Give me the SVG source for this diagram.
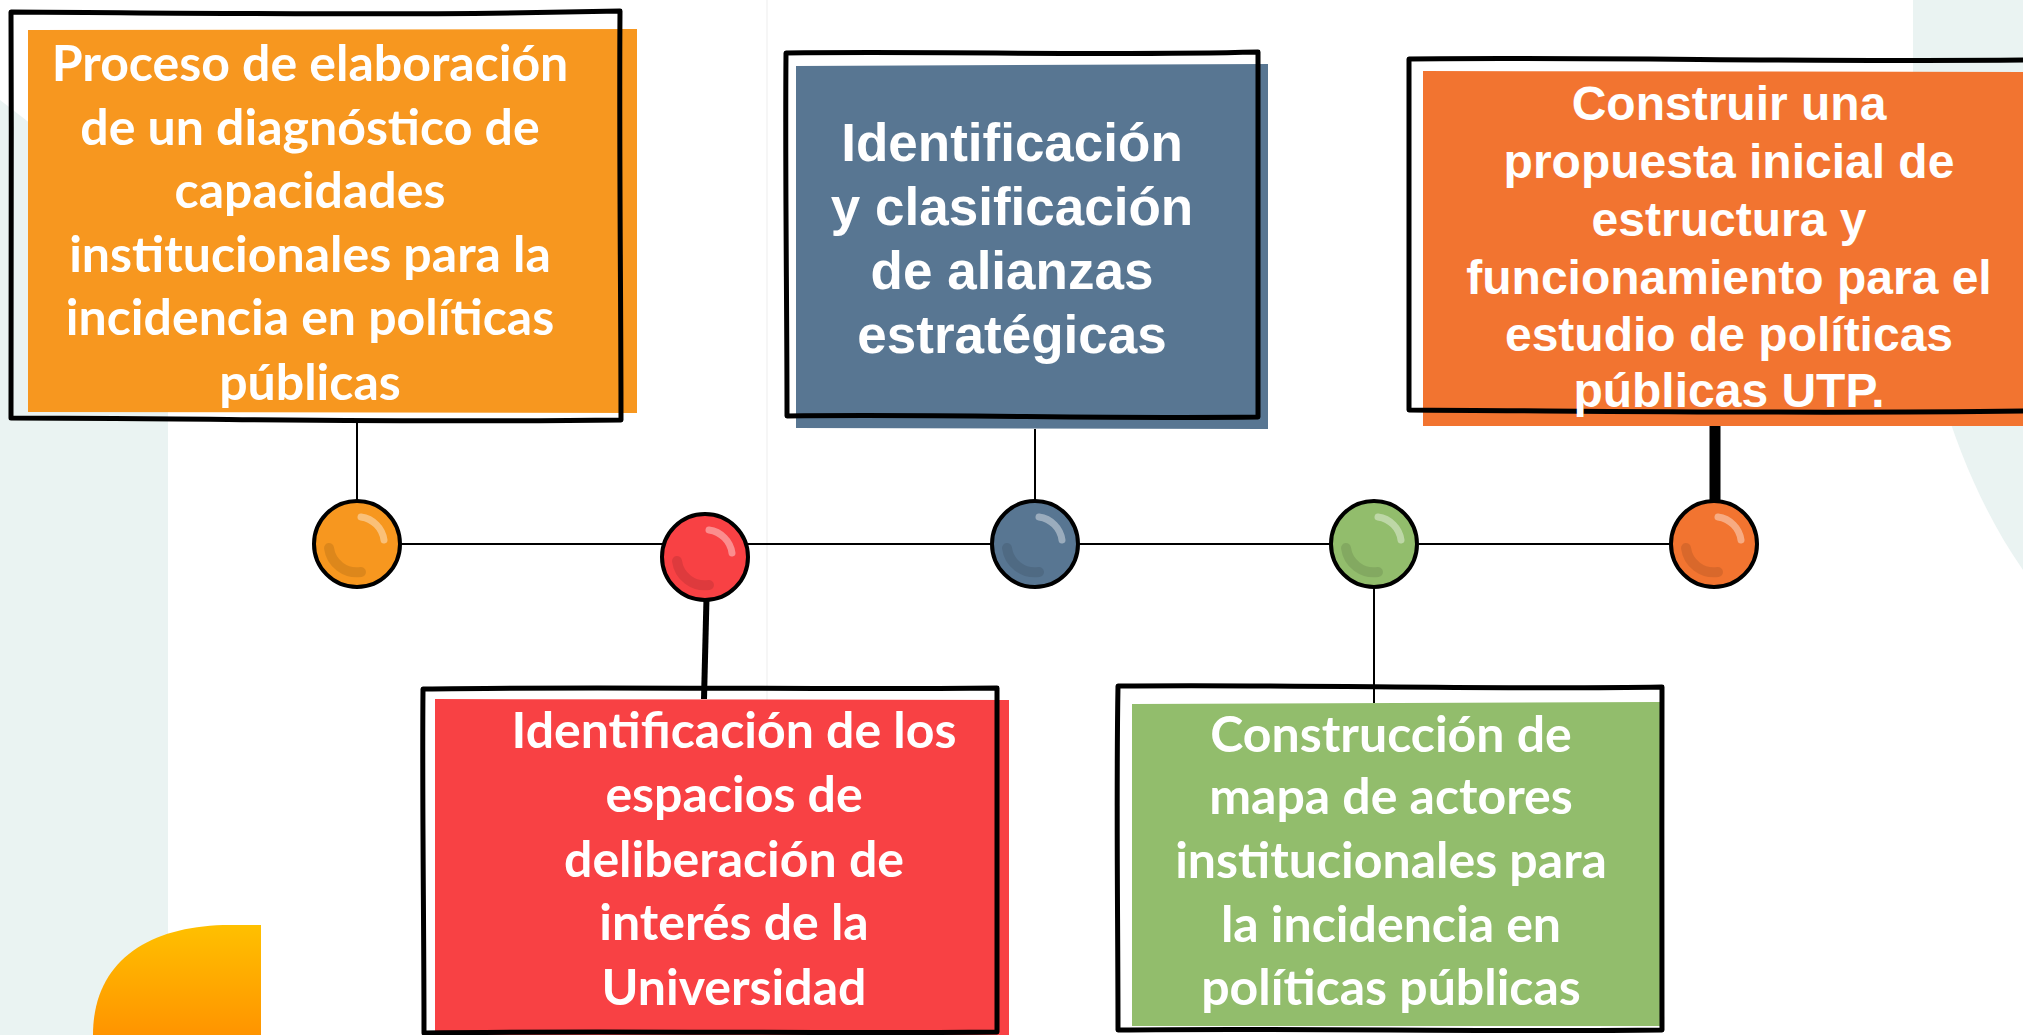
<svg xmlns="http://www.w3.org/2000/svg" width="2023" height="1035" viewBox="0 0 2023 1035">
<style>
.frame{fill:none;stroke:#000;stroke-width:5;stroke-linejoin:round;stroke-linecap:round}
.tc{font-family:Lato,"Open Sans","DejaVu Sans",sans-serif;font-weight:700;font-size:50px;fill:#fff;text-anchor:middle}
.ta{font-family:"Liberation Sans",Arial,sans-serif;font-weight:700;fill:#fff;text-anchor:middle}
.ball{stroke:#000;stroke-width:4}
.thin{stroke:#000;stroke-width:2;fill:none}
</style>
<defs>
<linearGradient id="gy" x1="0" y1="0" x2="0" y2="1">
<stop offset="0" stop-color="#FFC000"/>
<stop offset="1" stop-color="#FF9400"/>
</linearGradient>
<g id="gloss">
<path d="M4,-27 A27,27 0 0 1 27,-4" stroke="#fff" stroke-opacity="0.4" stroke-width="7" stroke-linecap="round" fill="none"/>
<path d="M-28,4 A28,28 0 0 0 4,28" stroke="#000" stroke-opacity="0.1" stroke-width="10" stroke-linecap="round" fill="none"/>
</g>
</defs>

<g id="background">
<rect x="0" y="0" width="2023" height="1035" fill="#fff"/>
<path d="M0,100 L168,230 L168,1035 L0,1035 Z" fill="#EAF3F2"/>
<path d="M1913,0 L2023,0 L2023,570 C1960,480 1913,340 1913,200 Z" fill="#EAF3F2"/>
<line x1="767" y1="0" x2="767" y2="1035" stroke="#F3F3F3" stroke-width="1.5"/>
<path d="M93,1035 C93,960 150,925 230,925 L261,925 L261,1035 Z" fill="url(#gy)"/>
</g>

<g id="connectors">
<line class="thin" x1="357" y1="544" x2="1713" y2="544" stroke="#3a3a3a"/>
<line class="thin" x1="357" y1="421" x2="357" y2="500"/>
<line class="thin" x1="1035" y1="429" x2="1035" y2="500"/>
<line class="thin" x1="1374" y1="587" x2="1374" y2="703"/>
<path d="M706.5,598 L704,699" stroke="#000" stroke-width="6" fill="none"/>
<line x1="1715" y1="426" x2="1715" y2="500" stroke="#000" stroke-width="11"/>
</g>

<g id="node-1">
<path d="M28,30 L637,29 L637,413 L28,412 Z" fill="#F7971F"/>
<path class="frame" d="M11,12 C200,13 400,16 620,11 C619,150 621,300 621,420 C400,423 200,418 11,418 C10,300 12,150 11,12 Z"/>
<text class="tc" x="310"><tspan x="310" y="81">Proceso de elaboración</tspan><tspan x="310" y="145">de un diagnóstico de</tspan><tspan x="310" y="208">capacidades</tspan><tspan x="310" y="272">institucionales para la</tspan><tspan x="310" y="335">incidencia en políticas</tspan><tspan x="310" y="400">públicas</tspan></text>
</g>

<g id="node-2">
<path d="M796,66 L1268,64 L1268,429 L796,428 Z" fill="#587692"/>
<path class="frame" d="M786,53 C950,51 1100,56 1258,52 C1257,180 1259,300 1258,417 C1100,419 950,414 787,416 C787,300 785,180 786,53 Z"/>
<text class="ta" font-size="53"><tspan x="1012" y="161">Identificación</tspan><tspan x="1012" y="225">y clasificación</tspan><tspan x="1012" y="289">de alianzas</tspan><tspan x="1012" y="353">estratégicas</tspan></text>
</g>

<g id="node-3">
<path d="M435,699 L1009,700 L1009,1035 L435,1035 Z" fill="#F84144"/>
<path class="frame" d="M423,689 C600,686 800,690 997,688 C996,800 998,920 997,1032 C800,1034 600,1030 424,1033 C424,920 422,800 423,689 Z"/>
<text class="tc"><tspan x="734" y="748">Identificación de los</tspan><tspan x="734" y="812">espacios de</tspan><tspan x="734" y="877">deliberación de</tspan><tspan x="734" y="940">interés de la</tspan><tspan x="734" y="1005">Universidad</tspan></text>
</g>

<g id="node-4">
<path d="M1132,704 L1660,702 L1660,1026 L1132,1026 Z" fill="#92BD6C"/>
<path class="frame" d="M1118,686 C1300,684 1480,690 1662,687 C1661,800 1663,920 1662,1030 C1480,1032 1300,1028 1118,1030 C1118,920 1116,800 1118,686 Z"/>
<text class="tc"><tspan x="1391" y="752">Construcción de</tspan><tspan x="1391" y="814">mapa de actores</tspan><tspan x="1391" y="878">institucionales para</tspan><tspan x="1391" y="942">la incidencia en</tspan><tspan x="1391" y="1005">políticas públicas</tspan></text>
</g>

<g id="node-5">
<path d="M1423,71 L2023,72 L2023,426 L1423,426 Z" fill="#F27430"/>
<path class="frame" d="M2030,60 C1800,62 1600,57 1409,59 C1410,180 1408,300 1409,410 C1600,411 1800,414 2030,411"/>
<text class="ta" font-size="48"><tspan x="1729" y="120">Construir una</tspan><tspan x="1729" y="178">propuesta inicial de</tspan><tspan x="1729" y="236">estructura y</tspan><tspan x="1729" y="294">funcionamiento para el</tspan><tspan x="1729" y="351">estudio de políticas</tspan><tspan x="1729" y="407">públicas UTP.</tspan></text>
</g>

<g id="ball-1" transform="translate(357,544)"><circle class="ball" r="43" fill="#F7971F"/><use href="#gloss"/></g>
<g id="ball-2" transform="translate(705,557)"><circle class="ball" r="43" fill="#F84144"/><use href="#gloss"/></g>
<g id="ball-3" transform="translate(1035,544)"><circle class="ball" r="43" fill="#587692"/><use href="#gloss"/></g>
<g id="ball-4" transform="translate(1374,544)"><circle class="ball" r="43" fill="#92BD6C"/><use href="#gloss"/></g>
<g id="ball-5" transform="translate(1714,544)"><circle class="ball" r="43" fill="#F27430"/><use href="#gloss"/></g>
</svg>
